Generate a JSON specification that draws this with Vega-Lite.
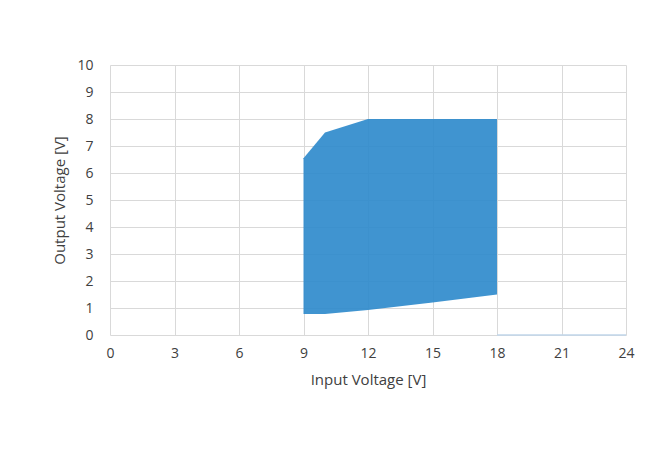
{
  "$schema": "https://vega.github.io/schema/vega-lite/v6.json",
  "width": 516,
  "height": 270,
  "autosize": {"type": "none"},
  "padding": {"left": 110, "top": 65, "right": 43, "bottom": 115},
  "background": "white",
  "config": {
    "view": {"stroke": null},
    "font": "Open Sans",
    "axis": {
      "grid": true,
      "gridColor": "#d9d9d9",
      "gridWidth": 1,
      "domain": false,
      "ticks": false,
      "labelOverlap": false,
      "labelFlush": false,
      "labelBound": false,
      "labelFont": "Open Sans",
      "labelFontSize": 14,
      "labelColor": "#404040",
      "titleFont": "Open Sans",
      "titleFontSize": 15,
      "titleFontWeight": "normal",
      "titleColor": "#404040"
    }
  },
  "layer": [
    {
      "data": {"values": [
        {"vin": 9, "vmax": 6.55, "vmin": 0.78},
        {"vin": 10, "vmax": 7.5, "vmin": 0.78},
        {"vin": 12, "vmax": 8.0, "vmin": 0.93},
        {"vin": 15, "vmax": 8.0, "vmin": 1.2},
        {"vin": 18, "vmax": 8.0, "vmin": 1.5}
      ]},
      "mark": {"type": "area", "color": "#2b88cb", "opacity": 0.9},
      "encoding": {
        "x": {"field": "vin", "type": "quantitative",
          "scale": {"domain": [0, 24], "nice": false},
          "axis": {"values": [0, 3, 6, 9, 12, 15, 18, 21, 24], "tickCount": 100, "format": "d", "title": "Input Voltage [V]", "labelPadding": 11, "titlePadding": 12}},
        "y": {"field": "vmax", "type": "quantitative",
          "scale": {"domain": [0, 10], "nice": false},
          "axis": {"values": [0, 1, 2, 3, 4, 5, 6, 7, 8, 9, 10], "tickCount": 100, "format": "d", "title": "Output Voltage [V]", "labelPadding": 17, "titlePadding": 9}},
        "y2": {"field": "vmin"}
      }
    },
    {
      "data": {"values": [
        {"vin": 18, "v": 0},
        {"vin": 24, "v": 0}
      ]},
      "mark": {"type": "line", "color": "#c0d6ea", "strokeWidth": 1.5},
      "encoding": {
        "x": {"field": "vin", "type": "quantitative",
          "axis": {"values": [0, 3, 6, 9, 12, 15, 18, 21, 24], "tickCount": 100, "format": "d", "title": "Input Voltage [V]", "labelPadding": 11, "titlePadding": 12}},
        "y": {"field": "v", "type": "quantitative",
          "axis": {"values": [0, 1, 2, 3, 4, 5, 6, 7, 8, 9, 10], "tickCount": 100, "format": "d", "title": "Output Voltage [V]", "labelPadding": 17, "titlePadding": 9}}
      }
    }
  ]
}
